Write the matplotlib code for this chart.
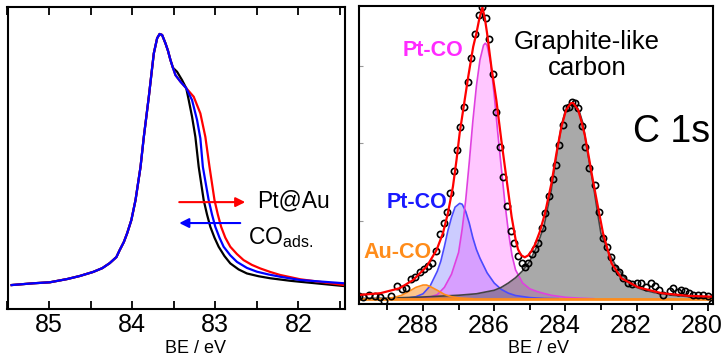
import numpy as np
import matplotlib
matplotlib.use("Agg")
import matplotlib.pyplot as plt
import matplotlib.transforms as mtransforms

plt.rcParams['font.family'] = ['Liberation Sans', 'DejaVu Sans']
plt.rcParams['mathtext.fontset'] = 'custom'
plt.rcParams['mathtext.rm'] = 'Liberation Sans'

# ---- left panel: Au 4f7/2 (three samples) ----
common_x = [85.45, 85.19, 84.99, 84.78, 84.63, 84.47, 84.36, 84.27, 84.19, 84.15,
            84.10, 84.06, 84.01, 83.96, 83.90, 83.86, 83.80, 83.74, 83.70, 83.67,
            83.64, 83.60, 83.57, 83.54, 83.51]
common_y = [0.000, 0.007, 0.011, 0.024, 0.036, 0.052, 0.067, 0.087, 0.111, 0.139,
            0.171, 0.206, 0.258, 0.337, 0.468, 0.588, 0.747, 0.919, 0.979, 0.996,
            0.992, 0.959, 0.930, 0.893, 0.862]

black_x = [83.46, 83.40, 83.35, 83.32, 83.28, 83.24, 83.20, 83.14, 83.10, 83.06,
           83.01, 82.96, 82.89, 82.82, 82.72, 82.62, 82.48, 82.34, 82.10, 81.98, 81.45]
black_y = [0.846, 0.813, 0.781, 0.734, 0.668, 0.588, 0.469, 0.337, 0.280, 0.231,
           0.188, 0.152, 0.115, 0.086, 0.062, 0.046, 0.035, 0.027, 0.017, 0.013, -0.004]

blue_x = [83.48, 83.42, 83.35, 83.28, 83.22, 83.18, 83.15, 83.08, 83.04, 83.00,
          82.95, 82.90, 82.82, 82.74, 82.62, 82.50, 82.36, 82.22, 81.98, 81.45]
blue_y = [0.833, 0.807, 0.781, 0.734, 0.655, 0.582, 0.469, 0.337, 0.280, 0.231,
          0.188, 0.152, 0.118, 0.092, 0.068, 0.053, 0.042, 0.033, 0.020, 0.007]

red_x = [83.48, 83.42, 83.35, 83.26, 83.18, 83.12, 83.07, 83.01, 82.97, 82.93,
         82.88, 82.82, 82.74, 82.66, 82.56, 82.46, 82.34, 82.22, 81.98, 81.45]
red_y = [0.833, 0.807, 0.781, 0.747, 0.681, 0.588, 0.469, 0.337, 0.280, 0.231,
         0.188, 0.152, 0.123, 0.099, 0.080, 0.066, 0.052, 0.040, 0.023, 0.000]

# ---- right panel: C 1s fit ----
pts_x = [289.80, 289.68, 289.52, 289.36, 289.22, 289.10, 288.89, 288.73, 288.58, 288.47,
         288.35, 288.23, 288.09, 287.98, 287.86, 287.76, 287.64, 287.53, 287.42, 287.32,
         287.25, 287.14, 287.04, 286.95, 286.85, 286.75, 286.64, 286.53, 286.43, 286.33,
         286.24, 286.14, 286.03, 285.94, 285.84, 285.75, 285.64, 285.54, 285.45, 285.33,
         285.23, 285.14, 285.05, 284.95, 284.86, 284.77, 284.67, 284.58, 284.46, 284.36,
         284.27, 284.17, 284.08, 283.97, 283.90, 283.82, 283.73, 283.64, 283.54, 283.45,
         283.33, 283.17, 283.06, 282.95, 282.84, 282.73, 282.60, 282.50, 282.37, 282.23,
         282.12, 282.00, 281.86, 281.72, 281.58, 281.48, 281.36, 281.25, 281.06, 280.97,
         280.83, 280.74, 280.64, 280.52, 280.40, 280.26, 280.12, 280.00, 279.88]
pts_y = [0.012, 0.008, 0.014, 0.010, 0.008, -0.006, 0.012, 0.045, 0.033, 0.037,
         0.068, 0.076, 0.094, 0.102, 0.113, 0.124, 0.166, 0.223, 0.260, 0.299,
         0.364, 0.440, 0.511, 0.591, 0.657, 0.745, 0.825, 0.907, 0.974, 1.002,
         0.964, 0.890, 0.771, 0.642, 0.520, 0.417, 0.319, 0.234, 0.193, 0.148,
         0.122, 0.111, 0.122, 0.154, 0.170, 0.191, 0.242, 0.294, 0.353, 0.410,
         0.459, 0.528, 0.597, 0.654, 0.660, 0.676, 0.672, 0.654, 0.593, 0.520,
         0.448, 0.390, 0.300, 0.210, 0.179, 0.143, 0.105, 0.094, 0.071, 0.056,
         0.050, 0.054, 0.056, 0.042, 0.056, 0.045, 0.030, 0.014, 0.028, 0.037,
         0.025, 0.030, 0.028, 0.020, 0.014, 0.013, 0.014, 0.012, -0.015]

env_x = [289.8, 289.2, 288.66, 288.28, 287.90, 287.62, 287.44, 287.30, 287.16, 287.06,
         286.97, 286.83, 286.73, 286.59, 286.50, 286.42, 286.33, 286.26, 286.20, 286.08,
         285.94, 285.80, 285.65, 285.51, 285.40, 285.33, 285.24, 285.14, 285.04, 284.95,
         284.86, 284.72, 284.58, 284.39, 284.25, 284.11, 283.98, 283.85, 283.78, 283.64,
         283.55, 283.45, 283.33, 283.26, 283.12, 282.94, 282.70, 282.42, 281.95, 281.29,
         280.55, 279.85]
env_y = [0.014, 0.020, 0.037, 0.065, 0.111, 0.168, 0.226, 0.295, 0.385, 0.476,
         0.569, 0.682, 0.762, 0.865, 0.911, 0.960, 1.000, 0.960, 0.911, 0.796,
         0.682, 0.545, 0.408, 0.282, 0.205, 0.170, 0.150, 0.143, 0.150, 0.165,
         0.185, 0.230, 0.290, 0.397, 0.500, 0.591, 0.648, 0.671, 0.672, 0.648,
         0.610, 0.560, 0.480, 0.430, 0.339, 0.225, 0.122, 0.071, 0.040, 0.020,
         0.011, 0.008]

pink_x = [288.4, 288.0, 287.8, 287.6, 287.4, 287.2, 287.0, 286.9, 286.8, 286.7,
          286.6, 286.5, 286.4, 286.3, 286.25, 286.2, 286.1, 286.0, 285.9, 285.8,
          285.7, 285.6, 285.5, 285.4, 285.2, 285.0, 284.8, 284.6, 284.4, 284.0,
          283.6, 283.2]
pink_y = [0.002, 0.004, 0.007, 0.015, 0.040, 0.085, 0.160, 0.240, 0.340, 0.470,
          0.610, 0.730, 0.820, 0.870, 0.877, 0.870, 0.810, 0.700, 0.570, 0.450,
          0.330, 0.230, 0.150, 0.100, 0.055, 0.035, 0.026, 0.019, 0.013, 0.006,
          0.003, 0.001]

ptco_x = [288.6, 288.4, 288.2, 288.0, 287.8, 287.6, 287.5, 287.4, 287.3, 287.2,
          287.1, 286.97, 286.9, 286.8, 286.7, 286.6, 286.5, 286.4, 286.2, 286.0,
          285.8, 285.6, 285.4, 285.0, 284.6, 284.2]
ptco_y = [0.002, 0.004, 0.008, 0.018, 0.045, 0.095, 0.130, 0.180, 0.235, 0.280,
          0.315, 0.328, 0.325, 0.300, 0.260, 0.210, 0.170, 0.140, 0.090, 0.055,
          0.033, 0.020, 0.012, 0.005, 0.002, 0.001]

auco_x = [289.0, 288.8, 288.6, 288.4, 288.2, 288.0, 287.9, 287.8, 287.6, 287.4,
          287.2, 287.0, 286.6]
auco_y = [0.002, 0.006, 0.013, 0.026, 0.040, 0.048, 0.048, 0.043, 0.030, 0.016,
          0.008, 0.004, 0.001]

graph_x = [289.8, 289.0, 288.5, 288.0, 287.5, 287.0, 286.5, 286.0, 285.8, 285.6,
           285.4, 285.2, 285.0, 284.8, 284.6, 284.4, 284.2, 284.1, 284.0, 283.9,
           283.8, 283.7, 283.6, 283.5, 283.4, 283.3, 283.2, 283.1, 283.0, 282.8,
           282.6, 282.4, 282.2, 282.0, 281.8, 281.5, 281.0, 280.5, 280.0, 279.8]
graph_y = [0.002, 0.003, 0.005, 0.007, 0.010, 0.013, 0.018, 0.030, 0.040, 0.055,
           0.073, 0.097, 0.130, 0.180, 0.250, 0.370, 0.530, 0.600, 0.645, 0.665,
           0.671, 0.665, 0.640, 0.600, 0.520, 0.450, 0.380, 0.300, 0.225, 0.165,
           0.118, 0.085, 0.055, 0.040, 0.031, 0.022, 0.013, 0.008, 0.005, 0.004]

W, H = 725, 361
fig = plt.figure(figsize=(W / 100, H / 100), dpi=100)

def box(l, t, r, b):
    return [l / W, 1 - b / H, (r - l) / W, (b - t) / H]

# ----- left -----
ax1 = fig.add_axes(box(7.5, 7, 345, 308.5))
ax1.plot(common_x + black_x, common_y + black_y, color='black', lw=1.6)
ax1.plot(common_x + red_x, common_y + red_y, color='red', lw=1.6)
ax1.plot(common_x + blue_x, common_y + blue_y, color='blue', lw=1.6)
ax1.set_xlim(85.5, 81.44)
ax1.set_ylim(-0.093, 1.103)
ax1.set_yticks([])
ax1.set_xticks([85, 84, 83, 82])
ax1.set_xticks([85.5, 84.5, 83.5, 82.5, 81.5], minor=True)
ax1.tick_params(axis='x', which='both', direction='in', top=True, length=6,
                width=1.3, labelsize=18, pad=3)
ax1.set_xlabel('BE / eV', fontsize=13)
ax1.xaxis.set_label_coords(0.556, -0.105)

ax1.annotate('', xy=(82.64, 0.329), xytext=(83.434, 0.329),
             arrowprops=dict(arrowstyle='-|>', color='red', lw=1.5,
                             mutation_scale=14, shrinkA=0, shrinkB=0))
ax1.annotate('', xy=(83.434, 0.246), xytext=(82.70, 0.246),
             arrowprops=dict(arrowstyle='-|>', color='blue', lw=1.5,
                             mutation_scale=14, shrinkA=0, shrinkB=0))
fig.text(257 / W, 1 - 201 / H, 'Pt@Au', fontsize=16.5, ha='left', va='center')
fig.text(248 / W, 1 - 238 / H, r'CO$_{\mathrm{ads.}}$', fontsize=16.5,
         ha='left', va='center')

# ----- right -----
ax2 = fig.add_axes(box(359, 6, 713, 304))
ax2.fill_between(ptco_x, 0, ptco_y, color='#0000ff', alpha=0.2, lw=0)
ax2.plot(ptco_x, ptco_y, color='#4a4aff', lw=1.2)
ax2.fill_between(pink_x, 0, pink_y, color='#ff00ff', alpha=0.22, lw=0)
ax2.plot(pink_x, pink_y, color='#e040e0', lw=1.2)
ax2.fill_between(graph_x, 0, graph_y, color='#555555', alpha=0.5, lw=0)
ax2.plot(graph_x, graph_y, color='#444444', lw=1.2)
ax2.fill_between(auco_x, 0, auco_y, color='#ff8000', alpha=0.45, lw=0)
ax2.plot(auco_x, auco_y, color='#ff8c1a', lw=1.2)
ax2.axhline(0, color='#ff8c1a', lw=2)
ax2.plot(pts_x, pts_y, 'o', mfc='none', mec='black', ms=4.5, mew=1.2)
ax2.plot(env_x, env_y, color='red', lw=1.6)

ax2.set_xlim(289.8, 279.85)
ax2.set_ylim(-0.017, 1.0045)
ax2.set_xticks([288, 286, 284, 282, 280])
ax2.set_xticks([289, 287, 285, 283, 281], minor=True)
ax2.tick_params(axis='x', which='major', direction='out', length=5, width=1.3,
                labelsize=18, pad=2)
ax2.tick_params(axis='x', which='minor', direction='out', length=4, width=1.3)
ax2.set_yticks([0.0, 0.267, 0.535, 0.80])
ax2.set_yticklabels([])
ax2.tick_params(axis='y', direction='in', length=3, width=0.8, color='0.6')
ax2.set_xlabel('BE / eV', fontsize=13)
ax2.xaxis.set_label_coords(0.508, -0.122)

# tick labels in the right panel sit a little left of their ticks
shift = mtransforms.ScaledTranslation(-5.5 / 100, 0, fig.dpi_scale_trans)
for lab in ax2.get_xticklabels():
    lab.set_transform(lab.get_transform() + shift)

for ax in (ax1, ax2):
    for s in ax.spines.values():
        s.set_linewidth(1.5)

fig.text(433 / W, 1 - 50 / H, 'Pt-CO', color='#ff2bff', fontsize=15.5,
         fontweight='bold', ha='center', va='center')
fig.text(417 / W, 1 - 203 / H, 'Pt-CO', color='#1a1aff', fontsize=15.5,
         fontweight='bold', ha='center', va='center')
fig.text(398 / W, 1 - 252 / H, 'Au-CO', color='#ff8c1a', fontsize=15.5,
         fontweight='bold', ha='center', va='center')
fig.text(587 / W, 1 - 55 / H, 'Graphite-like\ncarbon', fontsize=18.5,
         ha='center', va='center', linespacing=1.15)
fig.text(633 / W, 1 - 132 / H, 'C 1s', fontsize=27, ha='left', va='center')

fig.savefig('out.png', dpi=100)
